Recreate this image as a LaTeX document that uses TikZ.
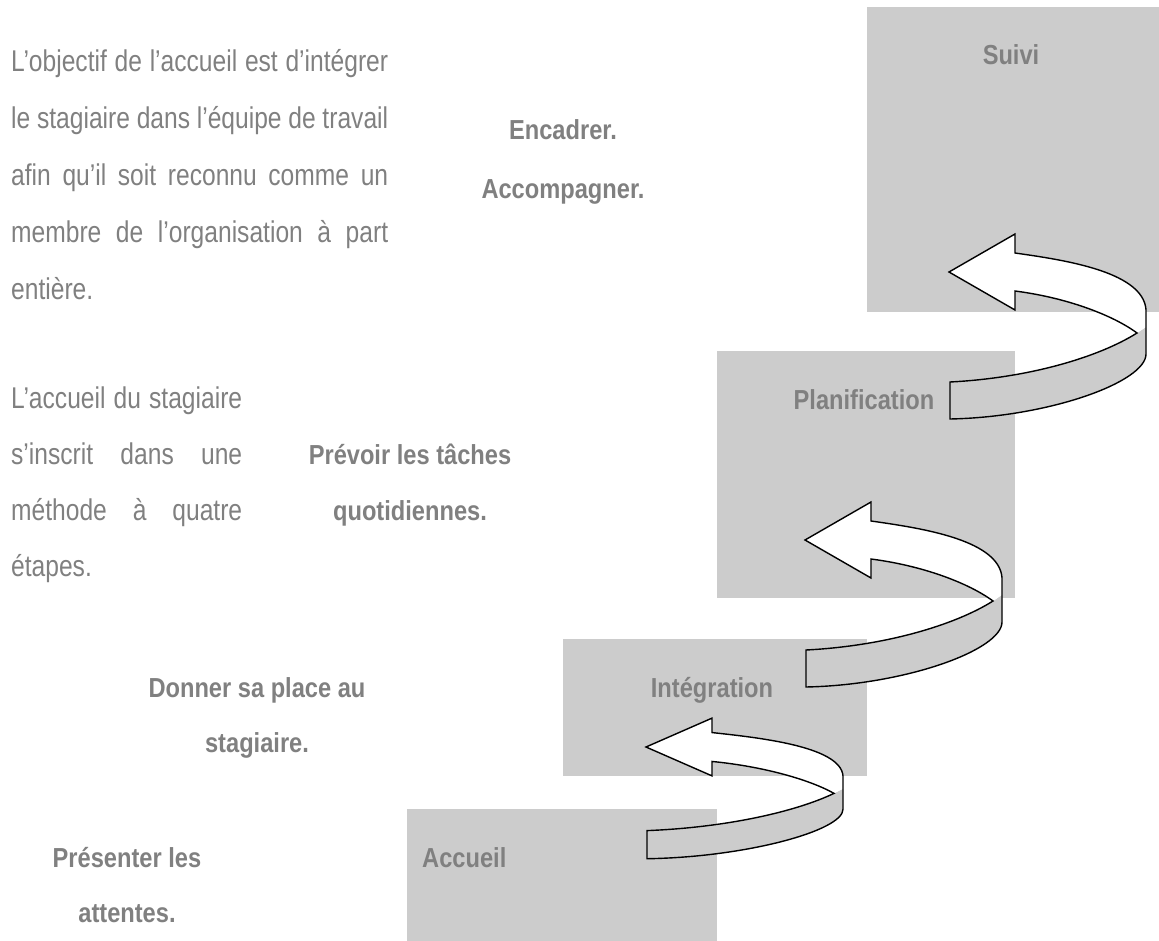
\documentclass[tikz,border=0pt]{standalone}
\usepackage{fontspec}
\setmainfont[FakeStretch=0.82]{Liberation Sans}
\newfontfamily\grasfont[FakeStretch=0.86]{Liberation Sans}
\definecolor{grisclair}{RGB}{204,204,204}
\definecolor{grisfonce}{RGB}{128,128,128}
\tolerance=10000
\hyphenpenalty=10000
\tikzset{
  boite/.style={rectangle, fill=grisclair, inner sep=0pt},
  etape/.style={font=\grasfont\bfseries\fontsize{27.5}{55}\selectfont, text=grisfonce, align=center, inner sep=0pt, anchor=base},
  texte/.style={font=\fontsize{30}{57}\selectfont, text=grisfonce, align=justify, inner sep=0pt, anchor=base west},
  virage/.pic={
    % face arriere
    \fill[grisclair] (188,61) .. controls (150,85) and (80,106) .. (1,110) -- (1,147)
      .. controls (100,145) and (197,110) .. (197,82) -- (197,55) -- cycle;
    % face avant
    \fill[white] (0,0) -- (66,-38) -- (66,-19) .. controls (115,-12) and (200,0) .. (197,42)
      -- (197,55) -- (188,61) .. controls (165,44) and (120,26) .. (66,19) -- (66,38) -- cycle;
    \draw[line width=1.4pt, line join=miter] (0,0) -- (66,-38) -- (66,-19)
      .. controls (115,-12) and (200,0) .. (197,42) -- (197,82)
      .. controls (197,110) and (100,145) .. (1,147) -- (1,110)
      .. controls (80,106) and (150,85) .. (188,61)
      .. controls (165,44) and (120,26) .. (66,19) -- (66,38) -- cycle;
  }
}
\begin{document}
\begin{tikzpicture}[x=1pt, y=-1pt]
      \useasboundingbox (0,0) rectangle (1159,941);

      \node[boite, minimum width=292pt, minimum height=305pt] (suivi) at (1013,159.5) {};
      \node[boite, minimum width=298pt, minimum height=247pt] (planif) at (866,474.5) {};
      \node[boite, minimum width=304pt, minimum height=137pt] (integ) at (715,707.5) {};
      \node[boite, minimum width=310pt, minimum height=132pt] (accueil) at (562,875) {};

      \pic[yscale=0.76] (v1) at (646,747) {virage};
      \pic (v2) at (805,540) {virage};
      \pic (v3) at (949,272) {virage};

      \node[etape] (t-suivi) at (1011,65) {Suivi};
      \node[etape] (t-planif) at (864,409) {Planification};
      \node[etape] (t-integ) at (712,697) {Intégration};
      \node[etape, anchor=base west] (t-accueil) at (422,867) {Accueil};

      % ancre = ligne de base de la derniere ligne
      \node[etape] (encadrer) at (563,199) {Encadrer.\\[4pt]Accompagner.};
      \node[etape] (prevoir) at (410,520) {Prévoir les tâches\\[1pt]quotidiennes.};
      \node[etape] (donner) at (257,752) {Donner sa place au\\stagiaire.};
      \node[etape] (presenter) at (127,922) {Présenter les\\attentes.};

      \node[texte, text width=377pt] (objectif) at (11,72) {L’objectif de l’accueil est d’intégrer\linebreak
        le stagiaire dans l’équipe de travail\linebreak
        afin qu’il soit reconnu comme un\linebreak
        membre de l’organisation à part\linebreak
        entière.};
      \node[texte, text width=231pt, font=\fontsize{30}{56.3}\selectfont] (methode) at (11,408) {L’accueil du stagiaire\linebreak
        s’inscrit dans une\linebreak
        méthode à quatre\linebreak
        étapes.};
    \end{tikzpicture}
\end{document}
